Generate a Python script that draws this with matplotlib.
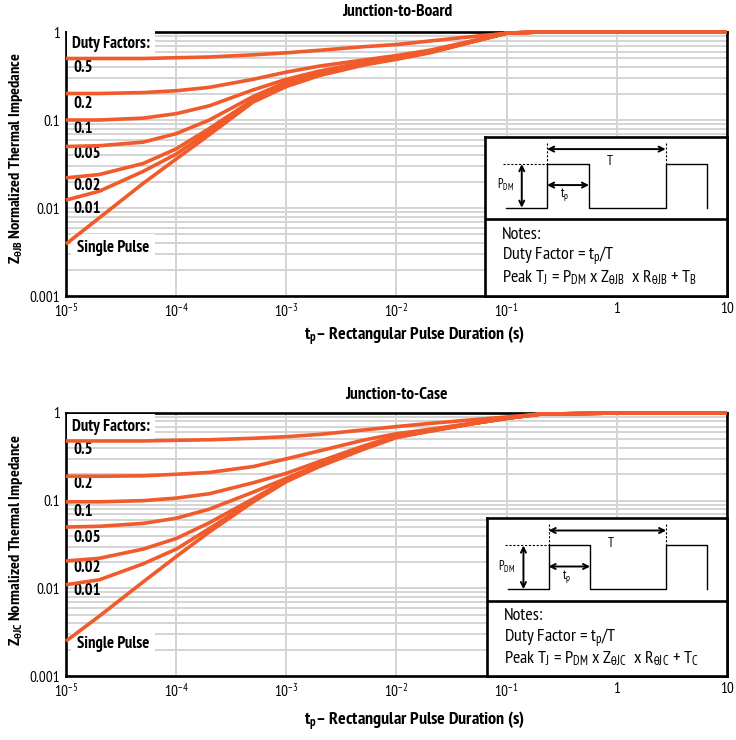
import numpy as np
import matplotlib
matplotlib.use('Agg')
import matplotlib.pyplot as plt
from matplotlib import font_manager
from matplotlib.ticker import FixedLocator, FixedFormatter, NullFormatter, NullLocator, LogLocator

names = {f.name for f in font_manager.fontManager.ttflist}
FONT = 'DejaVu Sans'
for cand in ['PT Sans Narrow', 'Roboto Condensed', 'Fira Sans Condensed', 'Liberation Sans Narrow']:
    if cand in names:
        FONT = cand
        break
plt.rcParams['font.family'] = [FONT, 'DejaVu Sans']
plt.rcParams['mathtext.fontset'] = 'custom'
plt.rcParams['mathtext.rm'] = FONT
plt.rcParams['mathtext.it'] = FONT + ':italic'
plt.rcParams['mathtext.bf'] = FONT + ':bold'
plt.rcParams['mathtext.default'] = 'regular'
plt.rcParams['mathtext.fallback'] = 'stixsans'

# ---------------- data ----------------
t_pulse = [1e-5, 2e-5, 5e-5, 1e-4, 2e-4, 5e-4, 1e-3, 2e-3, 5e-3, 1e-2, 2e-2, 5e-2, 1e-1, 2e-1, 1, 10]

duty_labels = ['0.5', '0.2', '0.1', '0.05', '0.02', '0.01', 'Single Pulse']

# Junction-to-Board
jb_d50 = [0.50, 0.50, 0.50, 0.51, 0.52, 0.55, 0.58, 0.62, 0.68, 0.72, 0.79, 0.89, 0.97, 1.0, 1.0, 1.0]
jb_d20 = [0.20, 0.20, 0.205, 0.215, 0.235, 0.29, 0.35, 0.41, 0.48, 0.54, 0.62, 0.80, 0.97, 1.0, 1.0, 1.0]
jb_d10 = [0.10, 0.10, 0.105, 0.118, 0.145, 0.22, 0.29, 0.36, 0.45, 0.51, 0.60, 0.79, 0.97, 1.0, 1.0, 1.0]
jb_d05 = [0.05, 0.051, 0.056, 0.07, 0.10, 0.185, 0.27, 0.34, 0.44, 0.50, 0.59, 0.79, 0.97, 1.0, 1.0, 1.0]
jb_d02 = [0.022, 0.024, 0.032, 0.047, 0.08, 0.17, 0.26, 0.335, 0.435, 0.50, 0.59, 0.78, 0.97, 1.0, 1.0, 1.0]
jb_d01 = [0.0123, 0.0155, 0.026, 0.041, 0.074, 0.165, 0.25, 0.33, 0.43, 0.495, 0.585, 0.78, 0.97, 1.0, 1.0, 1.0]
jb_sp = [0.0039, 0.0077, 0.019, 0.036, 0.068, 0.16, 0.24, 0.32, 0.42, 0.49, 0.58, 0.78, 0.97, 1.0, 1.0, 1.0]

# Junction-to-Case
jc_d50 = [0.48, 0.48, 0.48, 0.488, 0.495, 0.515, 0.537, 0.57, 0.64, 0.70, 0.76, 0.84, 0.90, 0.97, 1.0, 1.0]
jc_d20 = [0.19, 0.19, 0.192, 0.20, 0.21, 0.245, 0.30, 0.37, 0.49, 0.58, 0.65, 0.77, 0.88, 0.97, 1.0, 1.0]
jc_d10 = [0.097, 0.097, 0.10, 0.107, 0.12, 0.16, 0.205, 0.28, 0.42, 0.55, 0.64, 0.76, 0.87, 0.97, 1.0, 1.0]
jc_d05 = [0.05, 0.051, 0.055, 0.063, 0.08, 0.125, 0.18, 0.26, 0.40, 0.54, 0.63, 0.76, 0.87, 0.97, 1.0, 1.0]
jc_d02 = [0.0205, 0.022, 0.028, 0.037, 0.056, 0.105, 0.172, 0.255, 0.395, 0.535, 0.625, 0.76, 0.87, 0.97, 1.0, 1.0]
jc_d01 = [0.011, 0.0125, 0.019, 0.028, 0.048, 0.10, 0.17, 0.25, 0.39, 0.53, 0.62, 0.76, 0.87, 0.97, 1.0, 1.0]
jc_sp = [0.0025, 0.0048, 0.0118, 0.023, 0.044, 0.097, 0.165, 0.245, 0.385, 0.525, 0.62, 0.76, 0.87, 0.97, 1.0, 1.0]

x_ticks = [1e-5, 1e-4, 1e-3, 1e-2, 1e-1, 1, 10]
x_tick_labels = ['$10^{-5}$', '$10^{-4}$', '$10^{-3}$', '$10^{-2}$', '$10^{-1}$', '1', '10']
y_ticks = [0.001, 0.01, 0.1, 1]
y_tick_labels = ['0.001', '0.01', '0.1', '1']

ORANGE = '#F15A2B'
GRID = '#d4d4d4'

W, H = 736, 740
fig = plt.figure(figsize=(W / 100, H / 100), dpi=100)


def px(x, y):
    return x / W, 1 - y / H


def setup(ax):
    ax.set_xscale('log')
    ax.set_yscale('log')
    ax.set_xlim(1e-5, 10)
    ax.set_ylim(1e-3, 1)
    ax.xaxis.set_major_locator(FixedLocator(x_ticks))
    ax.xaxis.set_major_formatter(FixedFormatter(x_tick_labels))
    ax.xaxis.set_minor_locator(NullLocator())
    ax.yaxis.set_major_locator(FixedLocator(y_ticks))
    ax.yaxis.set_major_formatter(FixedFormatter(y_tick_labels))
    ax.yaxis.set_minor_locator(LogLocator(base=10, subs=np.arange(2, 10)))
    ax.yaxis.set_minor_formatter(NullFormatter())
    ax.grid(which='major', axis='both', color=GRID, lw=1.4)
    ax.grid(which='minor', axis='y', color=GRID, lw=1.4)
    ax.set_axisbelow(True)
    ax.tick_params(which='both', length=0, labelsize=11, pad=4)
    for s in ax.spines.values():
        s.set_linewidth(1.9)
        s.set_color('black')


def inset(ax, bounds, H_in, sub, ref):
    ins = ax.inset_axes(bounds, zorder=6)
    Wb = 242
    ins.set_xlim(0, Wb)
    ins.set_ylim(H_in, 0)
    ins.set_xticks([])
    ins.set_yticks([])
    ins.set_facecolor('white')
    for s in ins.spines.values():
        s.set_linewidth(1.9)
        s.set_color('black')
    ins.plot([0, Wb], [82.5, 82.5], color='black', lw=1.9)
    wx = [21, 62, 62, 104, 104, 180.7, 180.7, 222.3, 222.3]
    wy = [71, 71, 27.3, 27.3, 71, 71, 27.3, 27.3, 71]
    ins.plot(wx, wy, color='black', lw=1.0)
    ins.plot([18, 62], [27.3, 27.3], color='black', lw=0.8, ls=(0, (2, 1.5)))
    ins.plot([62, 62], [6, 27.3], color='black', lw=0.8, ls=(0, (2, 1.5)))
    ins.plot([180.7, 180.7], [6, 27.3], color='black', lw=0.8, ls=(0, (2, 1.5)))
    ap = dict(arrowstyle='<->', lw=1.4, color='black', mutation_scale=9, shrinkA=0, shrinkB=0)
    ins.annotate('', xy=(180.7, 12.3), xytext=(62, 12.3), arrowprops=ap)
    ins.annotate('', xy=(36.7, 71), xytext=(36.7, 27.3), arrowprops=ap)
    ins.annotate('', xy=(104, 48.3), xytext=(62, 48.3), arrowprops=ap)
    ins.text(125, 25, 'T', fontsize=9.5, ha='center', va='center')
    ins.text(11.5, 48.3, 'P$_{DM}$', fontsize=9, ha='left', va='center')
    ins.text(80, 58, 't$_{p}$', fontsize=9.5, ha='center', va='center')
    ins.text(16.7, 98.3, 'Notes:', fontsize=13, ha='left', va='center')
    ins.text(16.7, 119.3, 'Duty Factor = t$_{p}$/T', fontsize=13, ha='left', va='center')
    ins.text(16.7, 140, 'Peak T$_{J}$ = P$_{DM}$ x Z$_{θJ' + sub + '}$  x R$_{θJ' + sub + '}$ + T$_{' + ref + '}$',
             fontsize=13, ha='left', va='center')


def panel(ax, series, label_y, title, title_y, xlabel_y, ylabel_y, sub, ref, ibounds, iH):
    setup(ax)
    for s in series:
        ax.plot(t_pulse, s, color=ORANGE, lw=2.6, clip_on=False, zorder=4, solid_capstyle='butt')
    ax.text(0.009, label_y[0], 'Duty Factors:', transform=ax.transAxes, fontsize=12,
            fontweight='bold', ha='left', va='center', zorder=3,
            bbox=dict(boxstyle='square,pad=0.3', fc='white', ec='none'))
    for lab, yy in zip(duty_labels, label_y[1:]):
        xx = 0.016 if lab == 'Single Pulse' else 0.011
        kw = {}
        if lab == 'Single Pulse':
            kw['bbox'] = dict(boxstyle='square,pad=0.35', fc='white', ec='none')
        ax.text(xx, yy, lab, transform=ax.transAxes, fontsize=12, fontweight='bold',
                ha='left', va='center', zorder=3, **kw)
    fig.text(*px(397, title_y), title, fontsize=12.5, fontweight='bold', ha='center', va='center')
    fig.text(*px(415, xlabel_y), r'$\mathbf{t_p}$– Rectangular Pulse Duration (s)', fontsize=13,
             fontweight='bold', ha='center', va='center')
    fig.text(*px(16, ylabel_y), r'$\mathbf{Z_{θJ' + sub + r'}}$ Normalized Thermal Impedance', fontsize=11.8,
             fontweight='bold', ha='center', va='center', rotation=90)
    inset(ax, ibounds, iH, sub, ref)


ax1 = fig.add_axes([66 / W, (H - 296) / H, 661 / W, 264 / H])
ax2 = fig.add_axes([66 / W, (H - 676) / H, 661 / W, 263 / H])

panel(ax1, [jb_d50, jb_d20, jb_d10, jb_d05, jb_d02, jb_d01, jb_sp],
      [0.955, 0.864, 0.727, 0.633, 0.538, 0.417, 0.33, 0.182],
      'Junction-to-Board', 12, 336, 158, 'B', 'B',
      [0.634, 0.0, 0.366, 0.603], 159.3)
panel(ax2, [jc_d50, jc_d20, jc_d10, jc_d05, jc_d02, jc_d01, jc_sp],
      [0.948, 0.859, 0.730, 0.624, 0.525, 0.409, 0.323, 0.121],
      'Junction-to-Case', 395, 721, 540, 'C', 'C',
      [0.637, 0.0, 0.363, 0.600], 157.8)

fig.savefig('out.png', dpi=100)
